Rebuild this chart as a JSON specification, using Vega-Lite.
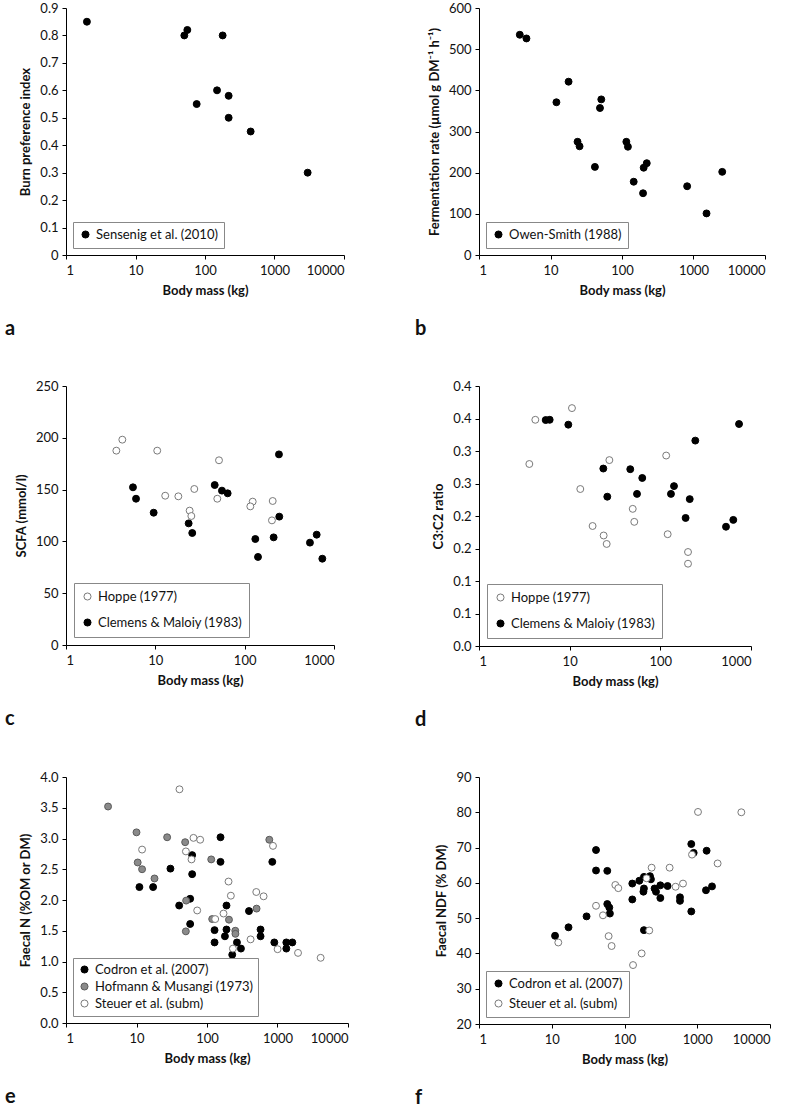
{
  "$schema": "https://vega.github.io/schema/vega-lite/v6.json",
  "background": "white",
  "padding": {"left": 5, "top": 2, "right": 5, "bottom": 2},
  "datasets": {
    "a": [
      {"mass": 2, "val": 0.85, "src": "Sensenig et al. (2010)"},
      {"mass": 50.4, "val": 0.80, "src": "Sensenig et al. (2010)"},
      {"mass": 55.7, "val": 0.82, "src": "Sensenig et al. (2010)"},
      {"mass": 179.5, "val": 0.80, "src": "Sensenig et al. (2010)"},
      {"mass": 75.9, "val": 0.55, "src": "Sensenig et al. (2010)"},
      {"mass": 149, "val": 0.60, "src": "Sensenig et al. (2010)"},
      {"mass": 219, "val": 0.58, "src": "Sensenig et al. (2010)"},
      {"mass": 219, "val": 0.50, "src": "Sensenig et al. (2010)"},
      {"mass": 454, "val": 0.45, "src": "Sensenig et al. (2010)"},
      {"mass": 3000, "val": 0.30, "src": "Sensenig et al. (2010)"}
    ],
    "b": [
      {"mass": 3.72, "val": 535, "src": "Owen-Smith (1988)"},
      {"mass": 4.61, "val": 526, "src": "Owen-Smith (1988)"},
      {"mass": 17.9, "val": 421, "src": "Owen-Smith (1988)"},
      {"mass": 12.1, "val": 371, "src": "Owen-Smith (1988)"},
      {"mass": 51.3, "val": 378, "src": "Owen-Smith (1988)"},
      {"mass": 49.2, "val": 357, "src": "Owen-Smith (1988)"},
      {"mass": 23.9, "val": 275, "src": "Owen-Smith (1988)"},
      {"mass": 25.5, "val": 264, "src": "Owen-Smith (1988)"},
      {"mass": 41.8, "val": 214, "src": "Owen-Smith (1988)"},
      {"mass": 115, "val": 275, "src": "Owen-Smith (1988)"},
      {"mass": 121, "val": 263, "src": "Owen-Smith (1988)"},
      {"mass": 145.8, "val": 178, "src": "Owen-Smith (1988)"},
      {"mass": 197, "val": 150, "src": "Owen-Smith (1988)"},
      {"mass": 201, "val": 212, "src": "Owen-Smith (1988)"},
      {"mass": 222, "val": 223, "src": "Owen-Smith (1988)"},
      {"mass": 815, "val": 167, "src": "Owen-Smith (1988)"},
      {"mass": 1521, "val": 101, "src": "Owen-Smith (1988)"},
      {"mass": 2523, "val": 202, "src": "Owen-Smith (1988)"}
    ],
    "c": [
      {"mass": 3.66, "val": 187.6, "src": "Hoppe (1977)"},
      {"mass": 4.27, "val": 198.2, "src": "Hoppe (1977)"},
      {"mass": 10.5, "val": 187.6, "src": "Hoppe (1977)"},
      {"mass": 12.9, "val": 144.1, "src": "Hoppe (1977)"},
      {"mass": 18.1, "val": 143.5, "src": "Hoppe (1977)"},
      {"mass": 24.2, "val": 129.7, "src": "Hoppe (1977)"},
      {"mass": 25.3, "val": 124.5, "src": "Hoppe (1977)"},
      {"mass": 27.3, "val": 150.6, "src": "Hoppe (1977)"},
      {"mass": 51.6, "val": 178.3, "src": "Hoppe (1977)"},
      {"mass": 49.4, "val": 141.2, "src": "Hoppe (1977)"},
      {"mass": 123, "val": 138.4, "src": "Hoppe (1977)"},
      {"mass": 115.7, "val": 133.8, "src": "Hoppe (1977)"},
      {"mass": 206, "val": 139, "src": "Hoppe (1977)"},
      {"mass": 202, "val": 120.3, "src": "Hoppe (1977)"},
      {"mass": 5.62, "val": 152.2, "src": "Clemens & Maloiy (1983)"},
      {"mass": 6.08, "val": 141.2, "src": "Clemens & Maloiy (1983)"},
      {"mass": 9.58, "val": 127.7, "src": "Clemens & Maloiy (1983)"},
      {"mass": 23.6, "val": 117.4, "src": "Clemens & Maloiy (1983)"},
      {"mass": 25.9, "val": 108.1, "src": "Clemens & Maloiy (1983)"},
      {"mass": 46.2, "val": 154.4, "src": "Clemens & Maloiy (1983)"},
      {"mass": 55.7, "val": 149, "src": "Clemens & Maloiy (1983)"},
      {"mass": 64.5, "val": 146.4, "src": "Clemens & Maloiy (1983)"},
      {"mass": 242, "val": 184, "src": "Clemens & Maloiy (1983)"},
      {"mass": 244, "val": 123.9, "src": "Clemens & Maloiy (1983)"},
      {"mass": 131.6, "val": 102.3, "src": "Clemens & Maloiy (1983)"},
      {"mass": 141, "val": 85, "src": "Clemens & Maloiy (1983)"},
      {"mass": 211, "val": 103.9, "src": "Clemens & Maloiy (1983)"},
      {"mass": 538, "val": 98.8, "src": "Clemens & Maloiy (1983)"},
      {"mass": 640, "val": 106.5, "src": "Clemens & Maloiy (1983)"},
      {"mass": 740, "val": 83.3, "src": "Clemens & Maloiy (1983)"}
    ],
    "d": [
      {"mass": 3.59, "val": 0.280, "src": "Hoppe (1977)"},
      {"mass": 4.18, "val": 0.348, "src": "Hoppe (1977)"},
      {"mass": 10.6, "val": 0.366, "src": "Hoppe (1977)"},
      {"mass": 13.1, "val": 0.2415, "src": "Hoppe (1977)"},
      {"mass": 17.9, "val": 0.1846, "src": "Hoppe (1977)"},
      {"mass": 23.7, "val": 0.170, "src": "Hoppe (1977)"},
      {"mass": 25.6, "val": 0.157, "src": "Hoppe (1977)"},
      {"mass": 27.4, "val": 0.286, "src": "Hoppe (1977)"},
      {"mass": 49.6, "val": 0.211, "src": "Hoppe (1977)"},
      {"mass": 51.6, "val": 0.191, "src": "Hoppe (1977)"},
      {"mass": 116, "val": 0.293, "src": "Hoppe (1977)"},
      {"mass": 120.5, "val": 0.172, "src": "Hoppe (1977)"},
      {"mass": 202, "val": 0.1446, "src": "Hoppe (1977)"},
      {"mass": 202, "val": 0.1266, "src": "Hoppe (1977)"},
      {"mass": 5.44, "val": 0.3476, "src": "Clemens & Maloiy (1983)"},
      {"mass": 6.02, "val": 0.348, "src": "Clemens & Maloiy (1983)"},
      {"mass": 9.66, "val": 0.3405, "src": "Clemens & Maloiy (1983)"},
      {"mass": 23.5, "val": 0.273, "src": "Clemens & Maloiy (1983)"},
      {"mass": 26.0, "val": 0.2297, "src": "Clemens & Maloiy (1983)"},
      {"mass": 46.6, "val": 0.272, "src": "Clemens & Maloiy (1983)"},
      {"mass": 55.3, "val": 0.234, "src": "Clemens & Maloiy (1983)"},
      {"mass": 63.2, "val": 0.2585, "src": "Clemens & Maloiy (1983)"},
      {"mass": 131, "val": 0.234, "src": "Clemens & Maloiy (1983)"},
      {"mass": 141.5, "val": 0.246, "src": "Clemens & Maloiy (1983)"},
      {"mass": 190, "val": 0.197, "src": "Clemens & Maloiy (1983)"},
      {"mass": 211, "val": 0.226, "src": "Clemens & Maloiy (1983)"},
      {"mass": 243, "val": 0.316, "src": "Clemens & Maloiy (1983)"},
      {"mass": 530, "val": 0.1835, "src": "Clemens & Maloiy (1983)"},
      {"mass": 638, "val": 0.194, "src": "Clemens & Maloiy (1983)"},
      {"mass": 738, "val": 0.3415, "src": "Clemens & Maloiy (1983)"}
    ],
    "e": [
      {"mass": 11, "val": 2.21, "src": "Codron et al. (2007)"},
      {"mass": 17.2, "val": 2.21, "src": "Codron et al. (2007)"},
      {"mass": 30.3, "val": 2.51, "src": "Codron et al. (2007)"},
      {"mass": 40.3, "val": 1.91, "src": "Codron et al. (2007)"},
      {"mass": 57.7, "val": 2.02, "src": "Codron et al. (2007)"},
      {"mass": 57.7, "val": 1.61, "src": "Codron et al. (2007)"},
      {"mass": 61.6, "val": 2.73, "src": "Codron et al. (2007)"},
      {"mass": 61.6, "val": 2.42, "src": "Codron et al. (2007)"},
      {"mass": 155.5, "val": 3.02, "src": "Codron et al. (2007)"},
      {"mass": 155.5, "val": 2.62, "src": "Codron et al. (2007)"},
      {"mass": 128, "val": 1.51, "src": "Codron et al. (2007)"},
      {"mass": 128, "val": 1.31, "src": "Codron et al. (2007)"},
      {"mass": 189, "val": 1.91, "src": "Codron et al. (2007)"},
      {"mass": 189, "val": 1.52, "src": "Codron et al. (2007)"},
      {"mass": 179.6, "val": 1.41, "src": "Codron et al. (2007)"},
      {"mass": 228, "val": 1.11, "src": "Codron et al. (2007)"},
      {"mass": 266, "val": 1.31, "src": "Codron et al. (2007)"},
      {"mass": 303, "val": 1.21, "src": "Codron et al. (2007)"},
      {"mass": 262, "val": 0.91, "src": "Codron et al. (2007)"},
      {"mass": 394, "val": 1.82, "src": "Codron et al. (2007)"},
      {"mass": 575, "val": 1.52, "src": "Codron et al. (2007)"},
      {"mass": 575, "val": 1.41, "src": "Codron et al. (2007)"},
      {"mass": 844, "val": 2.62, "src": "Codron et al. (2007)"},
      {"mass": 901, "val": 1.31, "src": "Codron et al. (2007)"},
      {"mass": 1334, "val": 1.31, "src": "Codron et al. (2007)"},
      {"mass": 1334, "val": 1.21, "src": "Codron et al. (2007)"},
      {"mass": 1623, "val": 1.31, "src": "Codron et al. (2007)"},
      {"mass": 3.95, "val": 3.52, "src": "Hofmann & Musangi (1973)"},
      {"mass": 10, "val": 3.10, "src": "Hofmann & Musangi (1973)"},
      {"mass": 10.4, "val": 2.61, "src": "Hofmann & Musangi (1973)"},
      {"mass": 12, "val": 2.50, "src": "Hofmann & Musangi (1973)"},
      {"mass": 18, "val": 2.35, "src": "Hofmann & Musangi (1973)"},
      {"mass": 27.2, "val": 3.02, "src": "Hofmann & Musangi (1973)"},
      {"mass": 49, "val": 2.94, "src": "Hofmann & Musangi (1973)"},
      {"mass": 50.6, "val": 1.99, "src": "Hofmann & Musangi (1973)"},
      {"mass": 50.1, "val": 1.49, "src": "Hofmann & Musangi (1973)"},
      {"mass": 114.8, "val": 2.66, "src": "Hofmann & Musangi (1973)"},
      {"mass": 118.5, "val": 1.69, "src": "Hofmann & Musangi (1973)"},
      {"mass": 205, "val": 1.68, "src": "Hofmann & Musangi (1973)"},
      {"mass": 252, "val": 1.50, "src": "Hofmann & Musangi (1973)"},
      {"mass": 253, "val": 1.45, "src": "Hofmann & Musangi (1973)"},
      {"mass": 765, "val": 2.98, "src": "Hofmann & Musangi (1973)"},
      {"mass": 505, "val": 1.86, "src": "Hofmann & Musangi (1973)"},
      {"mass": 40.7, "val": 3.80, "src": "Steuer et al. (subm)"},
      {"mass": 12, "val": 2.82, "src": "Steuer et al. (subm)"},
      {"mass": 50.2, "val": 2.79, "src": "Steuer et al. (subm)"},
      {"mass": 64.3, "val": 3.01, "src": "Steuer et al. (subm)"},
      {"mass": 80, "val": 2.98, "src": "Steuer et al. (subm)"},
      {"mass": 60.3, "val": 2.66, "src": "Steuer et al. (subm)"},
      {"mass": 72.6, "val": 1.83, "src": "Steuer et al. (subm)"},
      {"mass": 130.7, "val": 1.69, "src": "Steuer et al. (subm)"},
      {"mass": 171.5, "val": 1.78, "src": "Steuer et al. (subm)"},
      {"mass": 202, "val": 2.30, "src": "Steuer et al. (subm)"},
      {"mass": 218, "val": 2.07, "src": "Steuer et al. (subm)"},
      {"mass": 233, "val": 1.21, "src": "Steuer et al. (subm)"},
      {"mass": 415, "val": 1.36, "src": "Steuer et al. (subm)"},
      {"mass": 500, "val": 2.13, "src": "Steuer et al. (subm)"},
      {"mass": 635, "val": 2.06, "src": "Steuer et al. (subm)"},
      {"mass": 863, "val": 2.88, "src": "Steuer et al. (subm)"},
      {"mass": 1003, "val": 1.20, "src": "Steuer et al. (subm)"},
      {"mass": 1955, "val": 1.14, "src": "Steuer et al. (subm)"},
      {"mass": 4093, "val": 1.06, "src": "Steuer et al. (subm)"}
    ],
    "f": [
      {"mass": 11.1, "val": 45.0, "src": "Codron et al. (2007)"},
      {"mass": 17.0, "val": 47.4, "src": "Codron et al. (2007)"},
      {"mass": 30.1, "val": 50.5, "src": "Codron et al. (2007)"},
      {"mass": 40.6, "val": 69.3, "src": "Codron et al. (2007)"},
      {"mass": 40.6, "val": 63.5, "src": "Codron et al. (2007)"},
      {"mass": 58.0, "val": 63.4, "src": "Codron et al. (2007)"},
      {"mass": 58.0, "val": 54.0, "src": "Codron et al. (2007)"},
      {"mass": 61.8, "val": 53.0, "src": "Codron et al. (2007)"},
      {"mass": 63.0, "val": 51.3, "src": "Codron et al. (2007)"},
      {"mass": 128, "val": 59.8, "src": "Codron et al. (2007)"},
      {"mass": 128, "val": 55.3, "src": "Codron et al. (2007)"},
      {"mass": 160, "val": 60.6, "src": "Codron et al. (2007)"},
      {"mass": 185, "val": 61.7, "src": "Codron et al. (2007)"},
      {"mass": 185, "val": 58.4, "src": "Codron et al. (2007)"},
      {"mass": 182, "val": 57.5, "src": "Codron et al. (2007)"},
      {"mass": 185, "val": 46.6, "src": "Codron et al. (2007)"},
      {"mass": 224, "val": 61.9, "src": "Codron et al. (2007)"},
      {"mass": 231, "val": 61.0, "src": "Codron et al. (2007)"},
      {"mass": 259, "val": 58.4, "src": "Codron et al. (2007)"},
      {"mass": 271, "val": 57.5, "src": "Codron et al. (2007)"},
      {"mass": 311, "val": 59.3, "src": "Codron et al. (2007)"},
      {"mass": 311, "val": 55.7, "src": "Codron et al. (2007)"},
      {"mass": 391, "val": 59.1, "src": "Codron et al. (2007)"},
      {"mass": 579, "val": 55.9, "src": "Codron et al. (2007)"},
      {"mass": 579, "val": 54.9, "src": "Codron et al. (2007)"},
      {"mass": 828, "val": 71.0, "src": "Codron et al. (2007)"},
      {"mass": 893, "val": 68.5, "src": "Codron et al. (2007)"},
      {"mass": 828, "val": 51.9, "src": "Codron et al. (2007)"},
      {"mass": 1318, "val": 57.9, "src": "Codron et al. (2007)"},
      {"mass": 1345, "val": 69.1, "src": "Codron et al. (2007)"},
      {"mass": 1596, "val": 59.0, "src": "Codron et al. (2007)"},
      {"mass": 12.3, "val": 43.1, "src": "Steuer et al. (subm)"},
      {"mass": 40.6, "val": 53.5, "src": "Steuer et al. (subm)"},
      {"mass": 50.6, "val": 50.8, "src": "Steuer et al. (subm)"},
      {"mass": 60.5, "val": 44.9, "src": "Steuer et al. (subm)"},
      {"mass": 66.5, "val": 42.1, "src": "Steuer et al. (subm)"},
      {"mass": 74.8, "val": 59.4, "src": "Steuer et al. (subm)"},
      {"mass": 82.2, "val": 58.5, "src": "Steuer et al. (subm)"},
      {"mass": 131, "val": 36.7, "src": "Steuer et al. (subm)"},
      {"mass": 172, "val": 40.0, "src": "Steuer et al. (subm)"},
      {"mass": 201, "val": 61.3, "src": "Steuer et al. (subm)"},
      {"mass": 219, "val": 46.5, "src": "Steuer et al. (subm)"},
      {"mass": 236, "val": 64.3, "src": "Steuer et al. (subm)"},
      {"mass": 417, "val": 64.3, "src": "Steuer et al. (subm)"},
      {"mass": 504, "val": 58.9, "src": "Steuer et al. (subm)"},
      {"mass": 637, "val": 59.8, "src": "Steuer et al. (subm)"},
      {"mass": 847, "val": 68.0, "src": "Steuer et al. (subm)"},
      {"mass": 1024, "val": 80.1, "src": "Steuer et al. (subm)"},
      {"mass": 1905, "val": 65.5, "src": "Steuer et al. (subm)"},
      {"mass": 4036, "val": 80.0, "src": "Steuer et al. (subm)"}
    ]
  },
  "columns": 2,
  "bounds": "flush",
  "align": "each",
  "spacing": {"row": 131, "column": 131},
  "resolve": {
    "scale": {"x": "independent", "y": "independent", "fill": "independent", "stroke": "independent"},
    "axis": {"x": "independent", "y": "independent"},
    "legend": {"fill": "independent", "stroke": "independent"}
  },
  "concat": [
    {
      "width": 278, "height": 247,
      "data": {"name": "a"},
      "title": {"text": "a", "orient": "bottom", "anchor": "start", "frame": "group", "dx": -61, "offset": 22},
      "mark": {"type": "circle", "size": 48, "strokeWidth": 1, "opacity": 1},
      "encoding": {
        "x": {"field": "mass", "type": "quantitative", "scale": {"type": "log", "domain": [1, 10000], "nice": false}, "axis": {"title": "Body mass (kg)", "values": [1, 10, 100, 1000, 10000], "format": "d"}},
        "y": {"field": "val", "type": "quantitative", "scale": {"domain": [0, 0.9], "nice": false}, "axis": {"title": "Burn preference index", "values": [0, 0.1, 0.2, 0.3, 0.4, 0.5, 0.6, 0.7, 0.8, 0.9], "labelExpr": "datum.value == 0 ? '0' : format(datum.value, '.1f')"}},
        "fill": {"field": "src", "type": "nominal", "scale": {"domain": ["Sensenig et al. (2010)"], "range": ["#000000"]}, "legend": {"title": null, "orient": "bottom-left", "offset": 7, "padding": 6}},
        "stroke": {"field": "src", "type": "nominal", "scale": {"domain": ["Sensenig et al. (2010)"], "range": ["#000000"]}, "legend": {"title": null, "orient": "bottom-left", "offset": 7, "padding": 6}}
      }
    },
    {
      "width": 286, "height": 247,
      "data": {"name": "b"},
      "title": {"text": "b", "orient": "bottom", "anchor": "start", "frame": "group", "dx": -64, "offset": 22},
      "mark": {"type": "circle", "size": 48, "strokeWidth": 1, "opacity": 1},
      "encoding": {
        "x": {"field": "mass", "type": "quantitative", "scale": {"type": "log", "domain": [1, 10000], "nice": false}, "axis": {"title": "Body mass (kg)", "values": [1, 10, 100, 1000, 10000], "format": "d"}},
        "y": {"field": "val", "type": "quantitative", "scale": {"domain": [0, 600], "nice": false}, "axis": {"title": "Fermentation rate (µmol g DM⁻¹ h⁻¹)", "values": [0, 100, 200, 300, 400, 500, 600]}},
        "fill": {"field": "src", "type": "nominal", "scale": {"domain": ["Owen-Smith (1988)"], "range": ["#000000"]}, "legend": {"title": null, "orient": "bottom-left", "offset": 7, "padding": 6}},
        "stroke": {"field": "src", "type": "nominal", "scale": {"domain": ["Owen-Smith (1988)"], "range": ["#000000"]}, "legend": {"title": null, "orient": "bottom-left", "offset": 7, "padding": 6}}
      }
    },
    {
      "width": 268, "height": 259,
      "data": {"name": "c"},
      "title": {"text": "c", "orient": "bottom", "anchor": "start", "frame": "group", "dx": -61, "offset": 22},
      "mark": {"type": "circle", "size": 48, "strokeWidth": 1, "opacity": 1},
      "encoding": {
        "x": {"field": "mass", "type": "quantitative", "scale": {"type": "log", "domain": [1, 1000], "nice": false}, "axis": {"title": "Body mass (kg)", "values": [1, 10, 100, 1000], "format": "d"}},
        "y": {"field": "val", "type": "quantitative", "scale": {"domain": [0, 250], "nice": false}, "axis": {"title": "SCFA (mmol/l)", "values": [0, 50, 100, 150, 200, 250]}},
        "fill": {"field": "src", "type": "nominal", "scale": {"domain": ["Hoppe (1977)", "Clemens & Maloiy (1983)"], "range": ["#ffffff", "#000000"]}, "legend": {"title": null, "orient": "bottom-left", "offset": 8, "padding": 7, "rowPadding": 12}},
        "stroke": {"field": "src", "type": "nominal", "scale": {"domain": ["Hoppe (1977)", "Clemens & Maloiy (1983)"], "range": ["#7a7a7a", "#000000"]}, "legend": {"title": null, "orient": "bottom-left", "offset": 8, "padding": 7, "rowPadding": 12}}
      }
    },
    {
      "width": 272, "height": 260,
      "data": {"name": "d"},
      "title": {"text": "d", "orient": "bottom", "anchor": "start", "frame": "group", "dx": -64, "offset": 22},
      "mark": {"type": "circle", "size": 48, "strokeWidth": 1, "opacity": 1},
      "encoding": {
        "x": {"field": "mass", "type": "quantitative", "scale": {"type": "log", "domain": [1, 1000], "nice": false}, "axis": {"title": "Body mass (kg)", "values": [1, 10, 100, 1000], "format": "d"}},
        "y": {"field": "val", "type": "quantitative", "scale": {"domain": [0, 0.4], "nice": false}, "axis": {"title": "C3:C2 ratio", "values": [0, 0.05, 0.1, 0.15, 0.2, 0.25, 0.3, 0.35, 0.4], "labelExpr": "datum.value < 0.01 ? '0.0' : datum.value < 0.11 ? '0.1' : datum.value < 0.21 ? '0.2' : datum.value < 0.31 ? '0.3' : '0.4'"}},
        "fill": {"field": "src", "type": "nominal", "scale": {"domain": ["Hoppe (1977)", "Clemens & Maloiy (1983)"], "range": ["#ffffff", "#000000"]}, "legend": {"title": null, "orient": "bottom-left", "offset": 8, "padding": 7, "rowPadding": 12}},
        "stroke": {"field": "src", "type": "nominal", "scale": {"domain": ["Hoppe (1977)", "Clemens & Maloiy (1983)"], "range": ["#7a7a7a", "#000000"]}, "legend": {"title": null, "orient": "bottom-left", "offset": 8, "padding": 7, "rowPadding": 12}}
      }
    },
    {
      "width": 282, "height": 246,
      "data": {"name": "e"},
      "title": {"text": "e", "orient": "bottom", "anchor": "start", "frame": "group", "dx": -61, "offset": 22},
      "mark": {"type": "circle", "size": 48, "strokeWidth": 1, "opacity": 1},
      "encoding": {
        "x": {"field": "mass", "type": "quantitative", "scale": {"type": "log", "domain": [1, 10000], "nice": false}, "axis": {"title": "Body mass (kg)", "values": [1, 10, 100, 1000, 10000], "format": "d"}},
        "y": {"field": "val", "type": "quantitative", "scale": {"domain": [0, 4], "nice": false}, "axis": {"title": "Faecal N (%OM or DM)", "values": [0, 0.5, 1, 1.5, 2, 2.5, 3, 3.5, 4], "format": ".1f"}},
        "fill": {"field": "src", "type": "nominal", "scale": {"domain": ["Codron et al. (2007)", "Hofmann & Musangi (1973)", "Steuer et al. (subm)"], "range": ["#000000", "#8a8a8a", "#ffffff"]}, "legend": {"title": null, "orient": "bottom-left", "offset": 7, "padding": 5, "rowPadding": 3}},
        "stroke": {"field": "src", "type": "nominal", "scale": {"domain": ["Codron et al. (2007)", "Hofmann & Musangi (1973)", "Steuer et al. (subm)"], "range": ["#000000", "#5a5a5a", "#7a7a7a"]}, "legend": {"title": null, "orient": "bottom-left", "offset": 7, "padding": 5, "rowPadding": 3}}
      }
    },
    {
      "width": 291, "height": 247,
      "data": {"name": "f"},
      "title": {"text": "f", "orient": "bottom", "anchor": "start", "frame": "group", "dx": -64, "offset": 22},
      "mark": {"type": "circle", "size": 48, "strokeWidth": 1, "opacity": 1},
      "encoding": {
        "x": {"field": "mass", "type": "quantitative", "scale": {"type": "log", "domain": [1, 10000], "nice": false}, "axis": {"title": "Body mass (kg)", "values": [1, 10, 100, 1000, 10000], "format": "d"}},
        "y": {"field": "val", "type": "quantitative", "scale": {"domain": [20, 90], "nice": false, "zero": false}, "axis": {"title": "Faecal NDF (% DM)", "values": [20, 30, 40, 50, 60, 70, 80, 90]}},
        "fill": {"field": "src", "type": "nominal", "scale": {"domain": ["Codron et al. (2007)", "Steuer et al. (subm)"], "range": ["#000000", "#ffffff"]}, "legend": {"title": null, "orient": "bottom-left", "offset": 7, "padding": 6, "rowPadding": 6}},
        "stroke": {"field": "src", "type": "nominal", "scale": {"domain": ["Codron et al. (2007)", "Steuer et al. (subm)"], "range": ["#000000", "#7a7a7a"]}, "legend": {"title": null, "orient": "bottom-left", "offset": 7, "padding": 6, "rowPadding": 6}}
      }
    }
  ],
  "config": {
    "font": "Lato",
    "view": {"stroke": null},
    "axis": {
      "grid": false,
      "domainColor": "#000000",
      "domainWidth": 1,
      "tickColor": "#000000",
      "tickSize": 4,
      "labelFont": "Lato",
      "labelFontSize": 13,
      "labelColor": "#111111",
      "titleFont": "Lato",
      "titleFontSize": 13,
      "titleFontWeight": "bold",
      "titleColor": "#111111"
    },
    "axisX": {"labelPadding": 5, "titlePadding": 7},
    "axisY": {"labelPadding": 4, "titlePadding": 7},
    "legend": {
      "strokeColor": "#888888",
      "fillColor": "#ffffff",
      "labelFont": "Lato",
      "labelFontSize": 13,
      "labelColor": "#111111",
      "symbolSize": 50,
      "symbolStrokeWidth": 1,
      "labelOffset": 4,
      "labelLimit": 300
    },
    "title": {"font": "Lato", "fontSize": 20, "fontWeight": "bold", "color": "#111111"}
  }
}
